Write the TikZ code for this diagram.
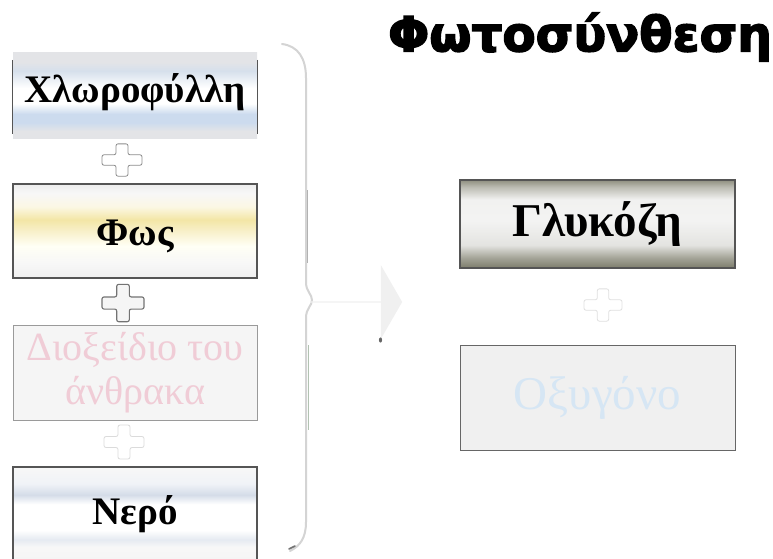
\documentclass[tikz,border=0pt]{standalone}
\usepackage{fontspec}
\setmainfont{Liberation Serif}
\newfontfamily\titlefont{DejaVu Sans}[BoldFeatures={FakeBold=3}]
\usetikzlibrary{shapes.arrows}

% colours
\definecolor{edgedark}{HTML}{555555}
\definecolor{edgemid}{HTML}{9A9A9A}
\definecolor{bracecol}{HTML}{D4D4D4}
\definecolor{cotext}{HTML}{F0CCD6}
\definecolor{oxtext}{HTML}{D6E6F4}
\definecolor{chlgrey}{HTML}{E3E4E7}
\definecolor{chlblue}{HTML}{CCDBEE}
\definecolor{chlpale}{HTML}{D6E0EC}
\definecolor{fosyel}{HTML}{F3E6A6}
\definecolor{neroblue}{HTML}{D4DCE8}

% vertical shadings: stops run from the bottom (25bp) to the top (75bp) of the box
\pgfdeclareverticalshading{chlshade}{100bp}{%
  color(0bp)=(chlgrey); color(25bp)=(chlgrey); color(29bp)=(chlgrey);
  color(34bp)=(chlblue); color(39bp)=(chlblue); color(45bp)=(white);
  color(54bp)=(white); color(64bp)=(chlpale); color(69bp)=(chlgrey);
  color(75bp)=(chlgrey); color(100bp)=(chlgrey)}
\pgfdeclareverticalshading{fosshade}{100bp}{%
  color(0bp)=(black!6); color(25bp)=(black!6); color(33bp)=(black!3);
  color(42bp)=(yellow!4!white); color(50bp)=(fosyel!60!white);
  color(56bp)=(fosyel); color(63bp)=(fosyel!30!white);
  color(70bp)=(black!3); color(75bp)=(black!7); color(100bp)=(black!7)}
\pgfdeclareverticalshading{neroshade}{100bp}{%
  color(0bp)=(black!4); color(25bp)=(black!4); color(32bp)=(black!3);
  color(36bp)=(neroblue!60!white); color(41bp)=(white);
  color(55bp)=(white); color(60bp)=(neroblue); color(66bp)=(neroblue!35!white);
  color(75bp)=(black!3); color(100bp)=(black!3)}
\pgfdeclareverticalshading{glucshade}{100bp}{%
  color(0bp)=(yellow!12!black!58); color(25bp)=(yellow!12!black!58);
  color(31bp)=(yellow!12!black!40); color(38bp)=(yellow!10!black!12);
  color(52bp)=(yellow!8!black!5); color(64bp)=(yellow!8!black!6);
  color(71bp)=(yellow!12!black!30); color(75bp)=(yellow!12!black!50);
  color(100bp)=(yellow!12!black!50)}

\tikzset{
  leftbox/.style={minimum width=244pt, inner sep=0pt},
  rightbox/.style={minimum width=275pt, inner sep=0pt},
  lefttext/.style={inner sep=0pt, font=\bfseries\fontsize{39}{41}\selectfont},
  plusmark/.pic={
    \path[pic actions, rounded corners=2pt]
      (-20,-5.5) -- (-6,-5.5) -- (-6,-17) -- (6,-17) -- (6,-5.5) -- (20,-5.5)
      -- (20,5.5) -- (6,5.5) -- (6,17) -- (-6,17) -- (-6,5.5) -- (-20,5.5) -- cycle;
  },
}

\begin{document}
\begin{tikzpicture}[x=1pt, y=-1pt]
\useasboundingbox (0,0) rectangle (773,558);
\fill[white] (0,0) rectangle (773,558);

% title
\node (title) at (580,37) {\titlefont\bfseries\fontsize{48.5}{48.5}\selectfont Φωτοσύνθεση};

% reactants
\node[leftbox, minimum height=86pt, shading=chlshade] (chl) at (135,95) {};
\node[lefttext] (chltext) at ([yshift=3pt]chl.center) {Χλωροφύλλη};
\draw[edgedark, line width=1.2pt] ([yshift=-8pt]chl.north west) -- ([yshift=4pt]chl.south west);
\draw[edgedark, line width=1.2pt] ([yshift=-8pt]chl.north east) -- ([yshift=4pt]chl.south east);

\node[leftbox, minimum height=94pt, shading=fosshade, draw=edgedark, line width=1.1pt]
  (fos) at (135,231) {};
\node[lefttext] (fostext) at ([yshift=-5pt]fos.center) {Φως};

\node[leftbox, minimum height=95pt, fill=black!4, draw=edgemid, line width=1pt,
  align=center, font=\fontsize{40}{44}\selectfont, text=cotext]
  (co2) at (135,372.5) {Διοξείδιο του\\άνθρακα};

\node[leftbox, minimum height=93pt, shading=neroshade, draw=edgedark, line width=1.1pt]
  (nero) at (135,513.5) {};
\node[lefttext] (nerotext) at ([yshift=-1pt]nero.center) {Νερό};

% plus signs between the reactants
\pic[draw=black!45, fill=white, line width=0.8pt, yscale=0.95] at (122,160) {plusmark};
\pic[draw=black!55, fill=black!4, line width=1.1pt, yscale=1.1, xscale=1.05] at (123,303) {plusmark};
\pic[draw=black!14, fill=white, line width=0.8pt] at (124,442) {plusmark};

% brace gathering the reactants
\draw[bracecol, line width=2pt, line cap=round]
  (282,44) .. controls (298,46) and (306,58) .. (306,78)
  -- (306,282) .. controls (306,292) and (312,294) .. (312,300)
  .. controls (312,306) and (306,308) .. (306,318)
  -- (306,522) .. controls (306,538) and (300,546) .. (290,551);
\draw[black!30, line width=0.9pt] (307,190) -- (307,263);
\draw[green!20!black!30, line width=0.7pt] (308,345) -- (308,430);
\draw[black!55, line width=1.6pt, line cap=round] (289,549) -- (295,546);

% reaction arrow
\node[single arrow, fill=black!6, draw=none, minimum width=74pt,
  single arrow head extend=14pt, single arrow tip angle=120,
  minimum height=92pt, inner sep=0pt] (arrow) at (356,302) {};
\fill[black!60] (380.5,340) ellipse (1.6pt and 2.6pt);

% products
\node[rightbox, minimum height=88pt, shading=glucshade, draw=edgedark, line width=2pt,
  font=\bfseries\fontsize{47}{49}\selectfont] (gluc) at (597,224) {Γλυκόζη};

\pic[draw=black!12, fill=white, line width=0.8pt, scale=0.95] at (603,305) {plusmark};

\node[rightbox, minimum height=105pt, fill=black!6, draw=black!60, line width=1pt,
  font=\fontsize{47}{49}\selectfont, text=oxtext] (oxy) at (597.5,397.5) {Οξυγόνο};
\end{tikzpicture}
\end{document}
